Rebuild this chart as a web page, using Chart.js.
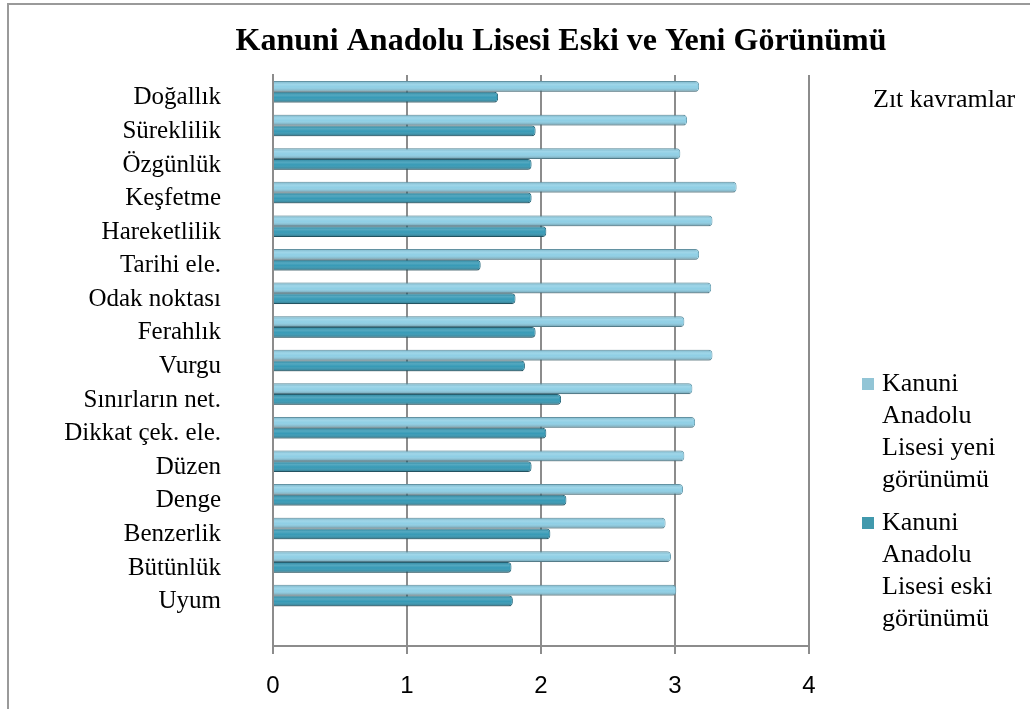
<!DOCTYPE html>
<html>
<head>
<meta charset="utf-8">
<script src="https://cdn.jsdelivr.net/npm/chart.js@4"></script>
<style>
  html, body { margin: 0; padding: 0; background: #fff; overflow: hidden; }
  #wrap { position: relative; width: 1030px; height: 709px; }
  #frame { position: absolute; left: 7px; top: 3px; width: 1100px; height: 800px; border: 2px solid #9a9a9a; box-sizing: border-box; }
  canvas { position: absolute; left: 0; top: 0; }
</style>
</head>
<body>
<div id="wrap">
  <div id="frame"></div>
  <canvas id="myChart" width="1030" height="709"></canvas>
</div>
<script>
const title = "Kanuni Anadolu Lisesi Eski ve Yeni Görünümü";
const legendTitle = "Zıt kavramlar";
const categories = [
  "Doğallık", "Süreklilik", "Özgünlük", "Keşfetme", "Hareketlilik",
  "Tarihi ele.", "Odak noktası", "Ferahlık", "Vurgu", "Sınırların net.",
  "Dikkat çek. ele.", "Düzen", "Denge", "Benzerlik", "Bütünlük", "Uyum", ""
];
const yeniLabel = "Kanuni Anadolu Lisesi yeni görünümü";
const eskiLabel = "Kanuni Anadolu Lisesi eski görünümü";
const yeniValues = [3.18, 3.09, 3.04, 3.46, 3.28, 3.18, 3.27, 3.07, 3.28, 3.13, 3.15, 3.07, 3.06, 2.93, 2.97, 3.01, 0];
const eskiValues = [1.68, 1.96, 1.93, 1.93, 2.04, 1.55, 1.81, 1.96, 1.88, 2.15, 2.04, 1.93, 2.19, 2.07, 1.78, 1.79, 0];
const xTicks = [0, 1, 2, 3, 4];

const serif = "'Liberation Serif', 'Times New Roman', serif";

// shading to give the bars a rounded, tube-like look
const tubeShade = {
  id: "tubeShade",
  afterDatasetsDraw(chart) {
    const ctx = chart.ctx;
    chart.data.datasets.forEach((ds, i) => {
      chart.getDatasetMeta(i).data.forEach((bar) => {
        const p = bar.getProps(["x", "y", "base", "height"], true);
        if (p.x - p.base < 1) return;
        const top = p.y - p.height / 2;
        const g = ctx.createLinearGradient(0, top, 0, top + p.height);
        g.addColorStop(0, "rgba(0,0,0,0.1)");
        g.addColorStop(0.3, "rgba(255,255,255,0.15)");
        g.addColorStop(0.55, "rgba(255,255,255,0)");
        g.addColorStop(1, "rgba(0,0,0,0.3)");
        ctx.save();
        ctx.fillStyle = g;
        ctx.fillRect(p.base, top, p.x - p.base - 2, p.height);
        ctx.restore();
      });
    });
  },
};

function wrap(ctx, text, maxWidth) {
  const words = text.split(" ");
  const lines = [];
  let line = "";
  words.forEach((w) => {
    const test = line ? line + " " + w : w;
    if (line && ctx.measureText(test).width > maxWidth) {
      lines.push(line);
      line = w;
    } else {
      line = test;
    }
  });
  if (line) lines.push(line);
  return lines;
}

const sideLegend = {
  id: "sideLegend",
  afterDraw(chart) {
    const ctx = chart.ctx;
    ctx.save();
    ctx.fillStyle = "#000";
    ctx.textBaseline = "middle";

    ctx.font = "bold 32px " + serif;
    ctx.textAlign = "center";
    ctx.fillText(title, 561, 42);

    ctx.font = "26px " + serif;
    ctx.textAlign = "left";
    ctx.fillText(legendTitle, 873, 100);

    let y = 384;
    chart.data.datasets.forEach((ds) => {
      ctx.fillStyle = ds.legendColor;
      ctx.fillRect(862, y - 6, 12, 12);
      ctx.fillStyle = "#000";
      wrap(ctx, ds.label, 125).forEach((ln, k) => {
        ctx.fillText(ln, 882, y + k * 32);
      });
      y += 139;
    });
    ctx.restore();
  },
};

document.addEventListener("DOMContentLoaded", chart);

function chart() {
  const ctx = document.getElementById("myChart");

  new Chart(ctx, {
    type: "bar",
    data: {
      labels: categories,
      datasets: [
        {
          label: yeniLabel,
          data: yeniValues,
          backgroundColor: "#8fcfe5",
          borderColor: "#6a9fb1",
          legendColor: "#92c5d6",
          borderWidth: 1,
          borderRadius: { topRight: 4, bottomRight: 4 },
          borderSkipped: "start",
          categoryPercentage: 0.64,
          barPercentage: 1,
        },
        {
          label: eskiLabel,
          data: eskiValues,
          backgroundColor: "#379ab6",
          borderColor: "#27687b",
          legendColor: "#4199ad",
          borderWidth: 1,
          borderRadius: { topRight: 4, bottomRight: 4 },
          borderSkipped: "start",
          categoryPercentage: 0.64,
          barPercentage: 1,
        },
      ],
    },
    plugins: [tubeShade, sideLegend],
    options: {
      indexAxis: "y",
      responsive: false,
      animation: false,
      layout: { padding: { top: 75, right: 221, left: 0, bottom: 0 } },
      plugins: {
        legend: { display: false },
        title: { display: false },
        tooltip: { enabled: false },
      },
      scales: {
        x: {
          min: 0,
          max: 4,
          afterBuildTicks: (s) => { s.ticks = xTicks.map((v) => ({ value: v })); },
          ticks: {
            color: "#000",
            font: { family: "'Liberation Sans', Arial, sans-serif", size: 24 },
            padding: 18,
          },
          grid: { color: "#8c8c8c", lineWidth: 2, tickLength: 8 },
          border: { color: "#8c8c8c", width: 2 },
          afterFit: (s) => { s.height = 63; },
        },
        y: {
          ticks: {
            color: "#000",
            font: { family: serif, size: 25 },
            padding: 44,
            labelOffset: 6,
          },
          grid: { display: false },
          border: { color: "#8c8c8c", width: 2 },
          afterFit: (s) => { s.width = 273; },
        },
      },
    },
  });
}
</script>
</body>
</html>
